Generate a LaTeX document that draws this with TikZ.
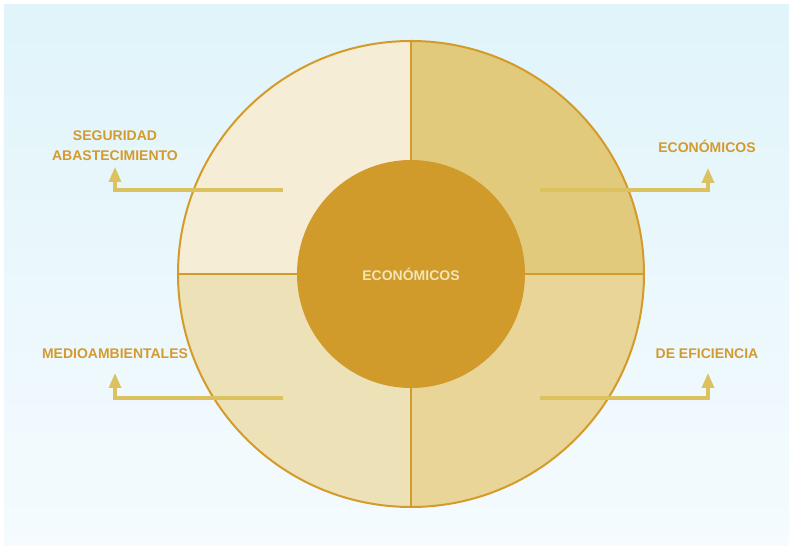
\documentclass[tikz,border=0pt]{standalone}
\usepackage{fontspec}
\setmainfont{Liberation Sans}
\usetikzlibrary{arrows.meta, positioning}

\definecolor{bgtop}{HTML}{E0F4FA}
\definecolor{bgbot}{HTML}{F5FBFE}
\definecolor{ring}{HTML}{D49B2A}
\definecolor{core}{HTML}{D19B2C}
\definecolor{qtl}{HTML}{F6EDD6}
\definecolor{qtr}{HTML}{E2CA7D}
\definecolor{qbl}{HTML}{EDE1B7}
\definecolor{qbr}{HTML}{E8D597}
\definecolor{arrowc}{HTML}{DCC25F}
\definecolor{labelc}{HTML}{D49A2E}
\definecolor{corelabel}{HTML}{F4E4B6}

\begin{document}
\begin{tikzpicture}[
    x=1pt, y=1pt,
    >={Triangle[length=15pt, width=12pt]},
    quad/.style={draw=ring, line width=2pt},
    branch/.style={->, arrowc, line width=3.2pt},
    tag/.style={labelc, font=\bfseries\fontsize{14}{20}\selectfont, align=center, inner sep=0pt},
]
\useasboundingbox (-411,-274) rectangle (382,274);
% backdrop
\shade[top color=bgtop, bottom color=bgbot] (-407,-272) rectangle (378,269);
% four quarters of the outer disc
\def\R{233}
\def\r{114}
\fill[qtl] (0,0) -- (0,\R) arc[start angle=90, end angle=180, radius=\R] -- cycle;
\fill[qtr] (0,0) -- (\R,0) arc[start angle=0, end angle=90, radius=\R] -- cycle;
\fill[qbl] (0,0) -- (-\R,0) arc[start angle=180, end angle=270, radius=\R] -- cycle;
\fill[qbr] (0,0) -- (0,-\R) arc[start angle=270, end angle=360, radius=\R] -- cycle;
\draw[quad] (0,0) circle (\R);
\draw[quad] (0,-\R) -- (0,\R);
\draw[quad] (-\R,0) -- (\R,0);
% inner disc
\node[circle, fill=core, minimum size=2*\r pt, inner sep=0pt,
      text=corelabel, font=\bfseries\fontsize{14}{16}\selectfont] (core) at (0,0) {ECONÓMICOS};
% branch start and tip points
\coordinate (s1) at (-128,84);   \coordinate (t1) at (-296,107);
\coordinate (s2) at (129,84);    \coordinate (t2) at (297,106);
\coordinate (s3) at (-128,-124); \coordinate (t3) at (-296,-99);
\coordinate (s4) at (129,-124);  \coordinate (t4) at (297,-99);
\draw[branch] (s1) -| (t1);
\draw[branch] (s2) -| (t2);
\draw[branch] (s3) -| (t3);
\draw[branch] (s4) -| (t4);
% labels
\node[tag] (seg) at (-296,128) {SEGURIDAD\\ABASTECIMIENTO};
\node[tag] (eco) at (296,128) {ECONÓMICOS};
\node[tag] (med) at (-296,-80) {MEDIOAMBIENTALES};
\node[tag] (efi) at (296,-80) {DE EFICIENCIA};
\end{tikzpicture}
\end{document}
